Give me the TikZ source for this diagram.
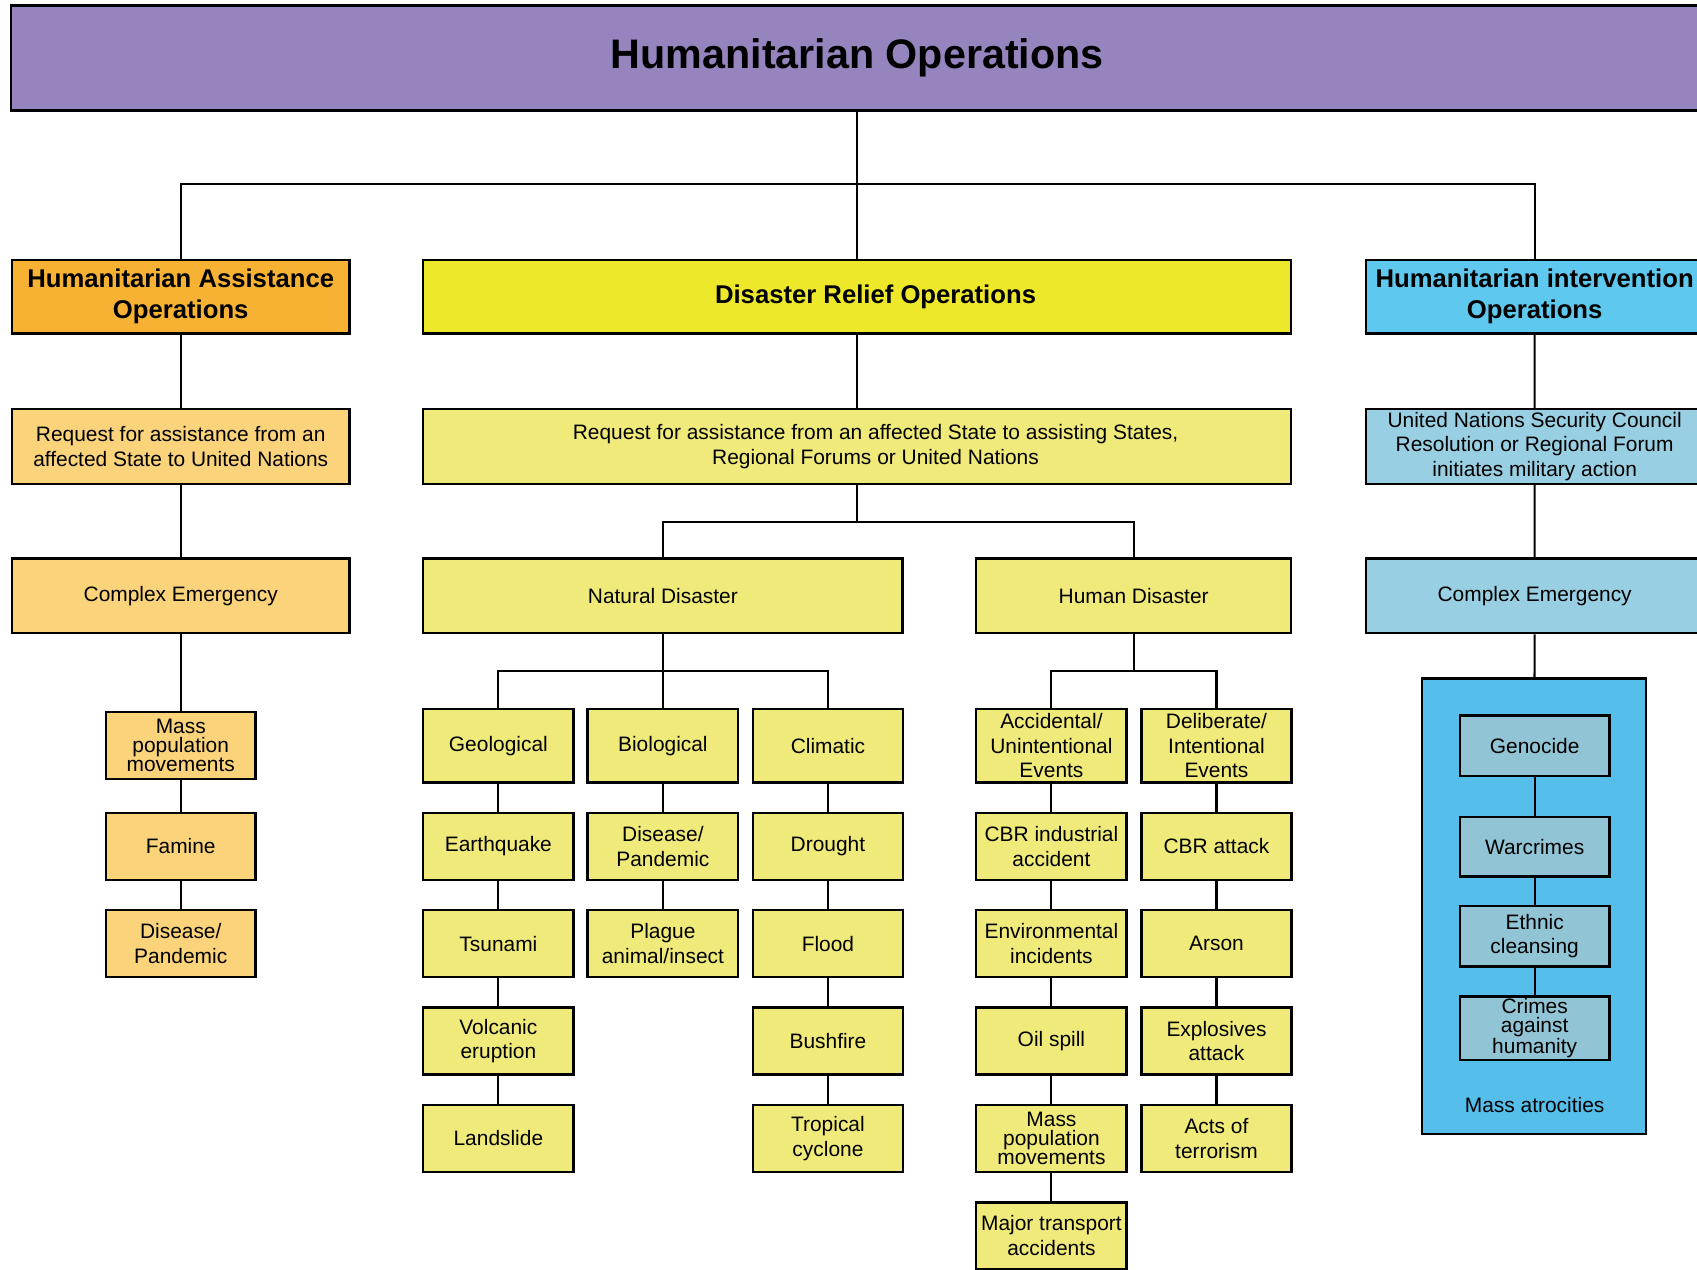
\documentclass[tikz,border=0pt]{standalone}
\usepackage{fontspec}
\setmainfont{Liberation Sans}
\usetikzlibrary{positioning}

\definecolor{opsPurple}{RGB}{150,132,190}
\definecolor{assistOrange}{RGB}{247,178,51}
\definecolor{assistLight}{RGB}{250,211,122}
\definecolor{reliefYellow}{RGB}{238,232,42}
\definecolor{reliefLight}{RGB}{240,234,122}
\definecolor{interBlue}{RGB}{94,200,238}
\definecolor{interLight}{RGB}{153,207,226}
\definecolor{atrocBlue}{RGB}{85,190,234}
\definecolor{atrocLight}{RGB}{145,196,212}

\begin{document}
\begin{tikzpicture}[x=0.02cm, y=-0.02cm, node distance=1.8cm, on grid,
    box/.style={draw, line width=1.3pt, inner sep=1pt, align=center, font=\fontsize{11}{13}\selectfont},
    head/.style={box, minimum height=1.36cm, font=\bfseries\fontsize{13.5}{16.4}\selectfont},
    wide/.style={box, minimum height=1.38cm},
    item/.style={box, fill=reliefLight, minimum width=2.78cm, minimum height=1.24cm},
    tight/.style={font=\fontsize{11}{10}\selectfont},
    offtext/.style={label={[align=center, xshift=0.34cm, font=\fontsize{11}{13}\selectfont]center:#1}},
    link/.style={line width=1.1pt}]

        \useasboundingbox (0,0) rectangle (1568,1173);

        \node[box, fill=opsPurple, minimum width=31.28cm, minimum height=1.94cm,
              font=\bfseries\fontsize{21.7}{26}\selectfont] (ops) at (792,53.5) {Humanitarian Operations};

        \node[head, fill=assistOrange, minimum width=6.24cm] (hao) at (167,274) {Humanitarian Assistance\\Operations};
        \node[head, fill=reliefYellow, minimum width=16.04cm,
              label={[xshift=0.34cm, font=\bfseries\fontsize{13.5}{16.4}\selectfont]center:Disaster Relief Operations}] (dro) at (792,274) {};
        \node[head, fill=interBlue, minimum width=6.24cm] (hio) at (1418,274) {Humanitarian intervention\\Operations};

        \node[wide, fill=assistLight, minimum width=6.24cm] (haoreq) at (167,412.5) {Request for assistance from an\\affected State to United Nations};
        \node[wide, fill=reliefLight, minimum width=16.04cm,
              offtext={Request for assistance from an affected State to assisting States,\\Regional Forums or United Nations}] (droreq) at (792,412.5) {};
        \node[wide, fill=interLight, minimum width=6.24cm] (hioreq) at (1418,412.5) {United Nations Security Council\\Resolution or Regional Forum\\initiates military action};

        \node[wide, fill=assistLight, minimum width=6.24cm] (haoce) at (167,550.5) {Complex Emergency};
        \node[wide, fill=reliefLight, minimum width=8.86cm] (nat) at (612.5,550.5) {Natural Disaster};
        \node[wide, fill=reliefLight, minimum width=5.82cm] (hum) at (1047.5,550.5) {Human Disaster};
        \node[wide, fill=interLight, minimum width=6.24cm] (hioce) at (1418,550.5) {Complex Emergency};

        \node[item, fill=assistLight, minimum width=2.76cm, tight] (mass) at (167,689) {Mass\\population\\movements};
        \node[item, fill=assistLight, minimum width=2.76cm] (famine) [below=1.86cm of mass] {Famine};
        \node[item, fill=assistLight, minimum width=2.76cm] (plague) [below=of famine] {Disease/\\Pandemic};

        \node[item, minimum height=1.36cm] (geo) at (460.5,689) {Geological};
        \node[item] (quake) [below=1.86cm of geo] {Earthquake};
        \node[item] (tsunami) [below=of quake] {Tsunami};
        \node[item] (volcano) [below=of tsunami] {Volcanic\\eruption};
        \node[item] (landslide) [below=of volcano] {Landslide};

        \node[item, minimum height=1.36cm] (bio) at (612.5,689) {Biological};
        \node[item] (pandemic) [below=1.86cm of bio] {Disease/\\Pandemic};
        \node[item] (pest) [below=of pandemic] {Plague\\animal/insect};

        \node[item, minimum height=1.36cm] (cli) at (765,689) {Climatic};
        \node[item] (drought) [below=1.86cm of cli] {Drought};
        \node[item] (flood) [below=of drought] {Flood};
        \node[item] (bushfire) [below=of flood] {Bushfire};
        \node[item] (cyclone) [below=of bushfire] {Tropical\\cyclone};

        \node[item, minimum height=1.36cm] (acc) at (971.5,689) {Accidental/\\Unintentional\\Events};
        \node[item] (cbri) [below=1.86cm of acc] {CBR industrial\\accident};
        \node[item] (env) [below=of cbri] {Environmental\\incidents};
        \node[item] (oil) [below=of env] {Oil spill};
        \node[item, tight] (exodus) [below=of oil] {Mass\\population\\movements};
        \node[item] (transport) [below=of exodus] {Major transport\\accidents};

        \node[item, minimum height=1.36cm] (del) at (1124,689) {Deliberate/\\Intentional\\Events};
        \node[item] (cbra) [below=1.86cm of del] {CBR attack};
        \node[item] (arson) [below=of cbra] {Arson};
        \node[item] (blast) [below=of arson] {Explosives\\attack};
        \node[item] (terror) [below=of blast] {Acts of\\terrorism};

        \node[box, fill=atrocBlue, minimum width=4.14cm, minimum height=8.42cm] (atroc) at (1417.5,837.5) {};
        \node[font=\fontsize{11}{13}\selectfont] (atroclbl) at (1418,1021) {Mass atrocities};
        \node[item, fill=atrocLight, minimum width=2.76cm, minimum height=1.12cm] (geno) at (1418,689) {Genocide};
        \node[item, fill=atrocLight, minimum width=2.76cm, minimum height=1.1cm] (war) at (1418,782.5) {Warcrimes};
        \node[item, fill=atrocLight, minimum width=2.76cm, minimum height=1.12cm] (ethnic) at (1418,865) {Ethnic\\cleansing};
        \node[item, fill=atrocLight, minimum width=2.76cm, minimum height=1.16cm, tight] (crimes) at (1418,950) {Crimes\\against\\humanity};

        \coordinate (opsj) at (792,170);
        \coordinate (reqj) at (792,482);
        \coordinate (natj) at (612.5,620);
        \coordinate (humj) at (1047.5,620);

        \draw[link] (ops) -- (dro);
        \draw[link] (hao) |- (opsj) -| (hio);
        \draw[link] (dro) -- (droreq) -- (reqj);
        \draw[link] (nat) |- (reqj) -| (hum);
        \draw[link] (nat) -- (bio);
        \draw[link] (geo) |- (natj) -| (cli);
        \draw[link] (hum) -- (humj);
        \draw[link] (acc) |- (humj) -| (del);

        \draw[link] (hao) -- (haoreq) -- (haoce) -- (mass) -- (famine) -- (plague);
        \draw[link] (hio) -- (hioreq) -- (hioce) -- (atroc);
        \draw[link] (geno) -- (war) -- (ethnic) -- (crimes);
        \draw[link] (geo) -- (quake) -- (tsunami) -- (volcano) -- (landslide);
        \draw[link] (bio) -- (pandemic) -- (pest);
        \draw[link] (cli) -- (drought) -- (flood) -- (bushfire) -- (cyclone);
        \draw[link] (acc) -- (cbri) -- (env) -- (oil) -- (exodus) -- (transport);
        \draw[link] (del) -- (cbra) -- (arson) -- (blast) -- (terror);

\end{tikzpicture}
\end{document}
